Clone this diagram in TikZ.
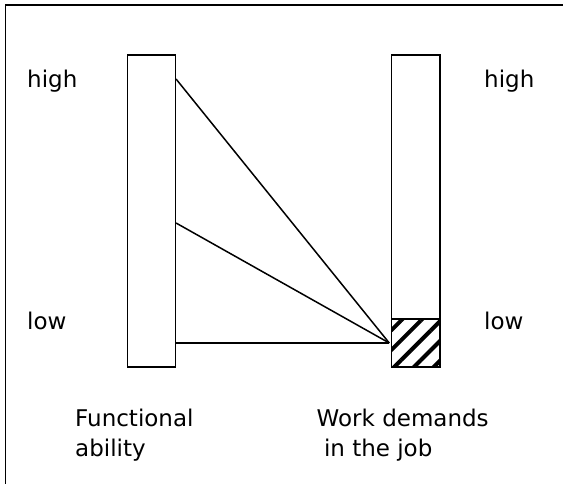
\documentclass[tikz,border=0pt]{standalone}
\usepackage{fontspec}
\setmainfont{DejaVu Sans}
\usetikzlibrary{calc, positioning, patterns.meta}

\tikzset{
  bar/.style={draw, line width=1.5pt, rectangle, inner sep=0pt, minimum width=48pt, minimum height=312pt},
  hatchbox/.style={draw, line width=1.5pt, rectangle, inner sep=0pt, minimum width=48.5pt, minimum height=48pt,
    pattern={Lines[angle=45, distance=14pt, line width=4pt]}},
  level/.style={anchor=base west, inner sep=0pt, font=\fontsize{23}{30}\selectfont},
  caption/.style={anchor=base west, inner sep=0pt, align=left, font=\fontsize{23}{30}\selectfont},
  link/.style={line width=1.5pt}
}

\begin{document}
\begin{tikzpicture}[x=1pt, y=-1pt]
  \clip (0,0) rectangle (563,484);
  \draw[line width=1.5pt] (5.5,5) rectangle (620,540);

  % the two bars
  \node[bar] (ability) at (151.3,211) {};
  \node[bar, minimum width=48.5pt] (demands) at (415.5,211) {};
  \node[hatchbox] (hatch) at (415.5,343) {};

  % scale labels
  \node[level] (highL) at (27,88) {high};
  \node[level] (lowL) at (27,329) {low};
  \node[level] (highR) at (484,88) {high};
  \node[level] (lowR) at (484,329) {low};

  % captions
  \node[caption] (abilityText) at (75,456) {Functional\\ability};
  \node[caption] (demandsText) at (316.5,456) {Work demands\\~in the job};

  % links to the job demand
  \draw[link] (ability.east |- 0,79) -- (hatch.west);
  \draw[link] (ability.east |- 0,223) -- (hatch.west);
  \draw[link] (ability.east |- hatch.west) -- (hatch.west);
\end{tikzpicture}
\end{document}
